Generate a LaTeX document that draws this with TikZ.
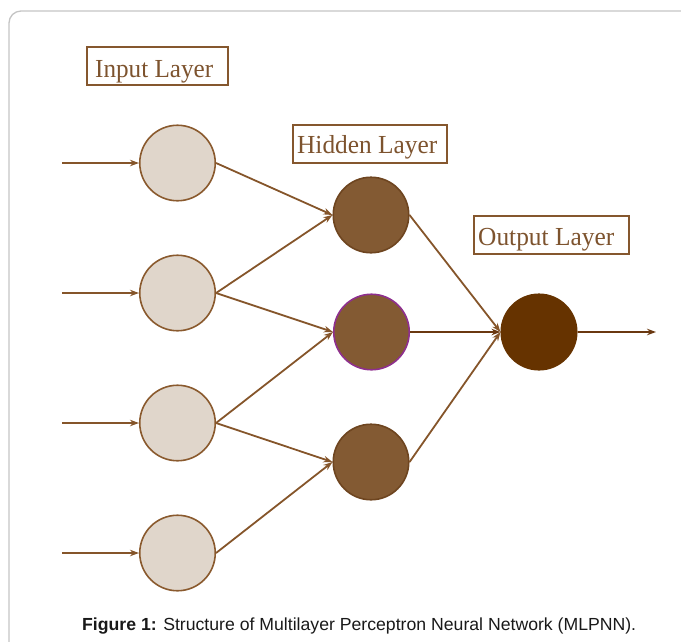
\documentclass[tikz,border=0pt]{standalone}
\usepackage{fontspec}
\usepackage{graphicx}
\setmainfont{Liberation Serif}
\newfontfamily\capfont{Liberation Sans}
\usetikzlibrary{arrows.meta}
\definecolor{frameg}{HTML}{C4C4C4}
\definecolor{brownline}{HTML}{85552A}
\definecolor{darkline}{HTML}{6A3810}
\definecolor{labtxt}{HTML}{7D532E}
\definecolor{labbord}{HTML}{85572E}
\definecolor{infill}{HTML}{E0D6CB}
\definecolor{instroke}{HTML}{8A5A2E}
\definecolor{hidfill}{HTML}{835A33}
\definecolor{hidstroke}{HTML}{6E4520}
\definecolor{purp}{HTML}{8E2F8E}
\definecolor{outfill}{HTML}{663300}
\tikzset{
  inneuron/.style={circle, draw=instroke, fill=infill, line width=1.6pt, minimum size=75.5pt, inner sep=0pt},
  hidneuron/.style={circle, draw=hidstroke, fill=hidfill, line width=1.6pt, minimum size=75.5pt, inner sep=0pt},
  outneuron/.style={circle, draw=outfill, fill=outfill, line width=1.6pt, minimum size=75.5pt, inner sep=0pt},
  labbox/.style={draw=labbord, line width=1.8pt, inner sep=0pt},
  labtext/.style={text=labtxt, font=\fontsize{26}{30}\selectfont, inner sep=0pt},
  conn/.style={draw=brownline, line width=1.8pt, -{Stealth[length=9pt,width=6.5pt]}},
  darkconn/.style={draw=darkline, line width=1.8pt, -{Stealth[length=9pt,width=6.5pt]}},
}
\begin{document}
\begin{tikzpicture}[x=1pt,y=-1pt]
\useasboundingbox (0,0) rectangle (681,641);
% frame
\draw[frameg, line width=1.3pt, rounded corners=12pt] (9,645) -- (9,11) -- (685,11);

% labels
\node[labbox, minimum width=141pt, minimum height=38pt] (inbox) at (157.5,66) {};
\node[labtext, anchor=base west] (intext) at (95,77) {\resizebox{118pt}{\height}{Input Layer}};
\node[labbox, minimum width=154pt, minimum height=38pt] (hidbox) at (370,144) {};
\node[labtext, anchor=base west] (hidtext) at (297,153) {\resizebox{140pt}{\height}{Hidden Layer}};
\node[labbox, minimum width=155pt, minimum height=38pt] (outbox) at (551.5,235) {};
\node[labtext, anchor=base west] (outtext) at (478,245) {\resizebox{136pt}{\height}{Output Layer}};

% neurons
\node[inneuron] (i1) at (177.5,163) {};
\node[inneuron] (i2) at (177.5,293) {};
\node[inneuron] (i3) at (177.5,423) {};
\node[inneuron] (i4) at (177.5,553) {};
\node[hidneuron] (h1) at (371,215) {};
\node[hidneuron, draw=purp] (h2) at (371.5,332) {};
\node[hidneuron] (h3) at (371,462) {};
\node[outneuron] (o1) at (539,332) {};

% inputs
\coordinate (s1) at (62,163);
\coordinate (s2) at (62,293);
\coordinate (s3) at (62,423);
\coordinate (s4) at (62,553);
\coordinate (e1) at (656,332);
\draw[conn] (s1) -- (i1.west);
\draw[conn] (s2) -- (i2.west);
\draw[conn] (s3) -- (i3.west);
\draw[conn] (s4) -- (i4.west);

% input -> hidden
\draw[conn] (i1.east) -- (h1.west);
\draw[conn] (i2.east) -- (h1.west);
\draw[conn] (i2.east) -- (h2.west);
\draw[conn] (i3.east) -- (h2.west);
\draw[conn] (i3.east) -- (h3.west);
\draw[conn] (i4.east) -- (h3.west);

% hidden -> output
\draw[conn] (h1.east) -- (o1.west);
\draw[darkconn] (h2.east) -- (o1.west);
\draw[conn] (h3.east) -- (o1.west);
\draw[darkconn] (o1.east) -- (e1);

% caption
\node[anchor=base west, inner sep=0pt, font=\capfont\fontsize{17.5}{20}\selectfont, text=black!90] (cap) at (82,630) {\resizebox{554pt}{\height}{\textbf{Figure 1:} Structure of Multilayer Perceptron Neural Network (MLPNN).}};
\end{tikzpicture}
\end{document}
